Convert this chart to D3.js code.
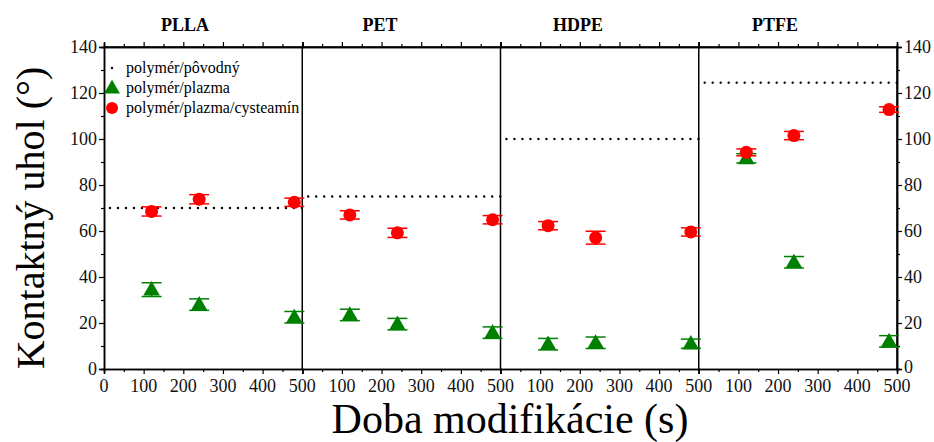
<!DOCTYPE html>
<html><head><meta charset="utf-8">
<script src="https://cdn.jsdelivr.net/npm/d3@7"></script>
<style>body{margin:0;background:#fff}svg{display:block}</style>
</head><body><svg id="c" width="934" height="442"></svg>
<script>
const panels = ["PLLA","PET","HDPE","PTFE"];
const times = [120,240,480];
const pristine = [70,75,100,124.5];
const plasma = [[34.5,28,22.5],[23.5,19.5,15.8],[10.8,11.4,11],[91.6,46.4,12]];
const plasmaErr = [[3,2.5,2.5],[2.5,2.5,2.5],[2.5,2.5,2],[2,2.5,2.5]];
const cyst = [[68.5,73.8,72.5],[67,59.2,64.9],[62.3,57.1,59.6],[94.2,101.5,112.8]];
const cystErr = [[2,2,1.8],[1.8,2,1.8],[1.8,2.8,1.8],[1.5,1.8,1.2]];
const yTicks = [0,20,40,60,80,100,120,140];
const xTicks = [0,100,200,300,400,500];
const legendLabels = ["polymér/pôvodný","polymér/plazma","polymér/plazma/cysteamín"];

const FF="Liberation Serif";
const svg = d3.select("#c");
const L=104, R=897, T=47, B=369;
const pw=(R-L)/4;
const y=d3.scaleLinear().domain([0,140]).range([B,T]);
const xs=panels.map((p,i)=>d3.scaleLinear().domain([0,500]).range([L+i*pw,L+(i+1)*pw]));

svg.append("g").attr("transform",`translate(${L},0)`)
 .call(d3.axisLeft(y).tickValues(yTicks).tickSize(5).tickFormat(""));
svg.append("g").attr("transform",`translate(${L},0)`)
 .call(d3.axisLeft(y).tickValues(d3.range(10,140,20)).tickSize(3).tickFormat(""));
svg.append("g").attr("transform",`translate(${R},0)`)
 .call(d3.axisRight(y).tickValues(yTicks).tickSize(5).tickFormat(""));
svg.append("g").attr("transform",`translate(${R},0)`)
 .call(d3.axisRight(y).tickValues(d3.range(10,140,20)).tickSize(3).tickFormat(""));

const fmt=d3.format("d");
// y tick labels
svg.append("g").selectAll("text").data(yTicks).join("text")
 .attr("x",L-7).attr("y",d=>y(d)).attr("dy","0.35em").attr("text-anchor","end")
 .attr("font-family",FF).attr("font-size",18).attr("fill","#111").text(fmt);
svg.append("g").selectAll("text").data(yTicks).join("text")
 .attr("x",R+7).attr("y",d=>y(d)).attr("dy",d=>d===0?"0.2em":"0.35em").attr("text-anchor","start")
 .attr("font-family",FF).attr("font-size",18).attr("fill","#111").text(fmt);

xs.forEach((x,i)=>{
  svg.append("g").attr("transform",`translate(0,${B})`)
   .call(d3.axisBottom(x).tickValues(xTicks).tickSize(5).tickFormat(""));
  svg.append("g").attr("transform",`translate(0,${B})`)
   .call(d3.axisBottom(x).tickValues([50,150,250,350,450]).tickSize(3).tickFormat(""));
  svg.append("g").attr("transform",`translate(0,${T})`)
   .call(d3.axisTop(x).tickValues(xTicks).tickSize(5).tickFormat(""));
  svg.append("g").attr("transform",`translate(0,${T})`)
   .call(d3.axisTop(x).tickValues([50,150,250,350,450]).tickSize(3).tickFormat(""));
  svg.append("g").selectAll("text").data(i===0?xTicks:xTicks.slice(1)).join("text")
   .attr("x",d=>x(d)).attr("y",B+23).attr("text-anchor","middle")
   .attr("font-family",FF).attr("font-size",18).attr("fill","#111").text(fmt);
});
svg.selectAll(".domain").attr("stroke","#000").attr("stroke-width",1.5);
svg.selectAll(".tick line").attr("stroke","#000").attr("stroke-width",1.2);

xs.forEach((x,i)=>{
  svg.append("line").attr("x1",x(500)).attr("x2",x(500)).attr("y1",T).attr("y2",B)
   .attr("stroke","#000").attr("stroke-width",1.5);
});
svg.append("line").attr("x1",L).attr("x2",R).attr("y1",T).attr("y2",T).attr("stroke","#000").attr("stroke-width",1.5);

const titleX=[185,380,578,775];
panels.forEach((p,i)=>{
  svg.append("text").attr("x",titleX[i]).attr("y",31).attr("text-anchor","middle").attr("font-family",FF)
   .attr("font-size",18).attr("font-weight","bold").text(p);
});

const tri=d3.symbol().type(d3.symbolTriangle).size(120);
panels.forEach((p,i)=>{
  const x=xs[i];
  svg.append("line").attr("x1",x(15)).attr("x2",x(500)).attr("y1",y(pristine[i])).attr("y2",y(pristine[i]))
   .attr("stroke","#000").attr("stroke-width",2.4).attr("stroke-dasharray","0,8").attr("stroke-linecap","round");
  const draw=(vals,errs,color,shape)=>{
    times.forEach((t,j)=>{
      const cx=x(t), v=vals[j], e=errs[j];
      const g=svg.append("g");
      g.append("line").attr("x1",cx).attr("x2",cx).attr("y1",y(v-e)).attr("y2",y(v+e)).attr("stroke",color).attr("stroke-width",1.5);
      [v-e,v+e].forEach(vv=>g.append("line").attr("x1",cx-10).attr("x2",cx+10).attr("y1",y(vv)).attr("y2",y(vv)).attr("stroke",color).attr("stroke-width",1.5));
      if(shape==="c") g.append("circle").attr("cx",cx).attr("cy",y(v)).attr("r",6.5).attr("fill",color);
      else g.append("path").attr("d",tri).attr("transform",`translate(${cx},${y(v)+1})`).attr("fill",color);
    });
  };
  draw(plasma[i],plasmaErr[i],"#008000","t");
  draw(cyst[i],cystErr[i],"#ff0000","c");
});

const lg=svg.append("g");
const ly=[68,88,108];
lg.append("circle").attr("cx",112).attr("cy",ly[0]).attr("r",1.2).attr("fill","#000");
lg.append("path").attr("d",d3.symbol().type(d3.symbolTriangle).size(110)).attr("transform",`translate(112,${ly[1]+1})`).attr("fill","#008000");
lg.append("circle").attr("cx",112).attr("cy",ly[2]).attr("r",6).attr("fill","#ff0000");
legendLabels.forEach((t,k)=>lg.append("text").attr("x",126).attr("y",ly[k]+4.5).attr("font-family",FF).attr("font-size",16).text(t));

svg.append("text").attr("transform","translate(44,218) rotate(-90)").attr("text-anchor","middle").attr("font-family",FF)
 .attr("font-size",40).text("Kontaktný uhol (°)");
svg.append("text").attr("x",510).attr("y",433).attr("text-anchor","middle").attr("font-family",FF).attr("font-size",42).text("Doba modifikácie (s)");
</script></body></html>
